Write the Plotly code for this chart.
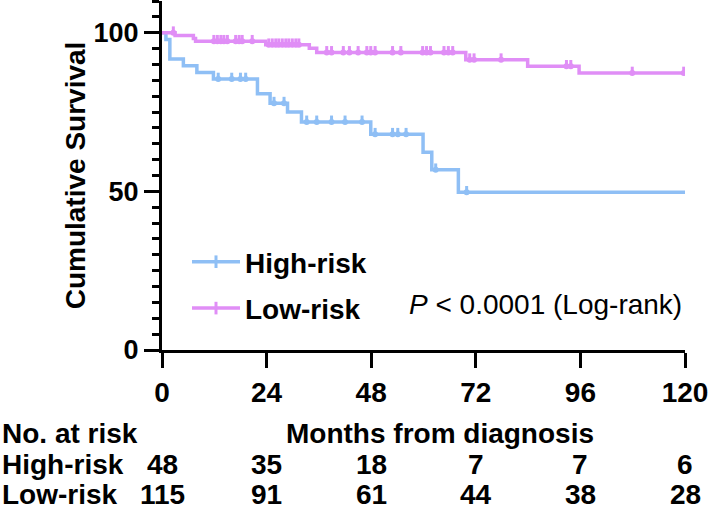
import plotly.graph_objects as go

# Kaplan-Meier steps (months, % surviving)
high_t = [0, 0.9, 1.8, 4.9, 8.0, 11.8, 21.9, 24.8, 28.8, 32.0, 47.9, 59.9, 61.9, 68.0, 120]
high_s = [100, 97.9, 91.7, 89.6, 87.5, 85.4, 80.8, 77.8, 75.0, 71.9, 68.0, 62.3, 56.8, 49.7, 49.7]
high_cens = [12.9, 16.0, 18.0, 19.2, 25.7, 28.0, 33.2, 35.5, 38.9, 42.0, 45.9, 48.9,
             52.9, 54.1, 56.0, 62.8, 69.9]

low_t = [0, 3.0, 7.2, 7.7, 23.8, 33.8, 35.5, 69.7, 83.9, 95.7, 119.7]
low_s = [100, 99.1, 98.2, 97.3, 96.2, 95.1, 93.8, 91.5, 89.4, 87.3, 87.3]
low_cens = [2.6, 11.9, 12.7, 13.5, 14.2, 15.0, 16.9, 17.7, 18.4, 20.7, 24.5, 25.3, 26.1,
            26.8, 27.6, 28.4, 29.1, 29.9, 30.7, 31.4, 37.8, 38.9, 41.6, 43.0, 45.0, 47.0,
            47.9, 48.9, 52.9, 54.8, 59.8, 60.7, 61.6, 64.7, 65.7, 66.7, 70.6, 71.6, 77.8,
            92.8, 93.8, 107.9, 119.7]

# number-at-risk table
risk_months = [0, 24, 48, 72, 96, 120]
risk_high = [48, 35, 18, 7, 7, 6]
risk_low = [115, 91, 61, 44, 38, 28]

BLUE = "#8FBFF5"
PINK = "#E08EF6"
FONT = "Liberation Sans, Arial, sans-serif"

W, H = 708, 509
L, R, T, B = 162, 23, 1, 159
PW, PH = W - L - R, H - T - B


def surv_at(ts, ss, t):
    s = ss[0]
    for ti, si in zip(ts, ss):
        if ti <= t:
            s = si
    return s


def py(y_px):
    # pixel row -> paper y
    return (H - B - y_px) / PH


fig = go.Figure()

groups = [
    ("High-risk", high_t, high_s, high_cens, BLUE),
    ("Low-risk", low_t, low_s, low_cens, PINK),
]

for name, ts, ss, cens, color in groups:
    fig.add_trace(go.Scatter(
        x=ts, y=ss, mode="lines", line=dict(color=color, width=3.5, shape="hv"),
        showlegend=False, hoverinfo="skip",
    ))
    # censor ticks pointing up from the curve
    fig.add_trace(go.Scatter(
        x=cens, y=[surv_at(ts, ss, c) for c in cens], mode="markers",
        marker=dict(size=0, color=color),
        error_y=dict(type="data", symmetric=False, array=[2.0] * len(cens),
                     arrayminus=[0] * len(cens), width=0, thickness=3, color=color),
        showlegend=False, hoverinfo="skip",
    ))

for i, (name, ts, ss, cens, color) in enumerate(groups):
    fig.add_trace(go.Scatter(
        x=[None], y=[None], mode="lines+markers", name=name, legendgroup=name,
        line=dict(color=color, width=3.5),
        marker=dict(symbol="line-ns", size=9, color=color, line=dict(width=3, color=color)),
    ))

annotations = [
    dict(text="<i>P</i> &lt; 0.0001 (Log-rank)", xref="paper", yref="paper",
         x=1.0, y=py(304), xanchor="right", yanchor="middle", showarrow=False,
         xshift=-1, font=dict(size=28, family=FONT, color="black")),
    dict(text="No. at risk", xref="paper", yref="paper", x=-L / PW, y=py(433),
         xanchor="left", yanchor="middle", showarrow=False),
    dict(text="Months from diagnosis", xref="paper", yref="paper", x=(440 - L) / PW,
         y=py(433), xanchor="center", yanchor="middle", showarrow=False),
]
for label, counts, row in [("High-risk", risk_high, 464), ("Low-risk", risk_low, 494)]:
    annotations.append(dict(text=label, xref="paper", yref="paper", x=-L / PW, y=py(row),
                            xanchor="left", yanchor="middle", showarrow=False))
    for m, n in zip(risk_months, counts):
        annotations.append(dict(text=str(n), xref="x", yref="paper", x=m, y=py(row),
                                xanchor="center", yanchor="middle", showarrow=False))

for a in annotations[1:]:
    a["font"] = dict(size=28, family=FONT, color="black", weight="bold")

fig.update_layout(
    width=W, height=H,
    margin=dict(l=L, r=R, t=T, b=B),
    plot_bgcolor="white", paper_bgcolor="white",
    font=dict(family=FONT, size=28, color="black"),
    annotations=annotations,
    legend=dict(
        x=(187 - L) / PW, y=py(237), xanchor="left", yanchor="top",
        bgcolor="rgba(0,0,0,0)", tracegroupgap=7, itemwidth=48,
        font=dict(size=28, family=FONT, color="black", weight="bold"),
    ),
    xaxis=dict(
        range=[0, 120], tickvals=risk_months, showline=True, linewidth=3,
        linecolor="black", ticks="outside", ticklen=15, tickwidth=3, tickcolor="black",
        tickfont=dict(size=28, family=FONT, weight="bold"), showgrid=False, zeroline=False,
        ticklabeloverflow="allow",
    ),
    yaxis=dict(
        range=[0, 110], tickvals=[0, 50, 100], showline=True, linewidth=3,
        linecolor="black", ticks="outside", ticklen=15, tickwidth=3, tickcolor="black",
        tickfont=dict(size=27, family=FONT, weight="bold"), showgrid=False, zeroline=False,
        minor=dict(tickvals=list(range(0, 111, 5)), ticks="outside", ticklen=7,
                   tickwidth=3, tickcolor="black", showgrid=False),
        title=dict(text="Cumulative Survival", standoff=0,
                   font=dict(size=28, family=FONT, weight="bold")),
    ),
)

# drop the default page margin so the figure sits at the window's top-left corner
fig.write_html("out.html", config={"displayModeBar": False},
               post_script="document.body.style.margin='0';")
